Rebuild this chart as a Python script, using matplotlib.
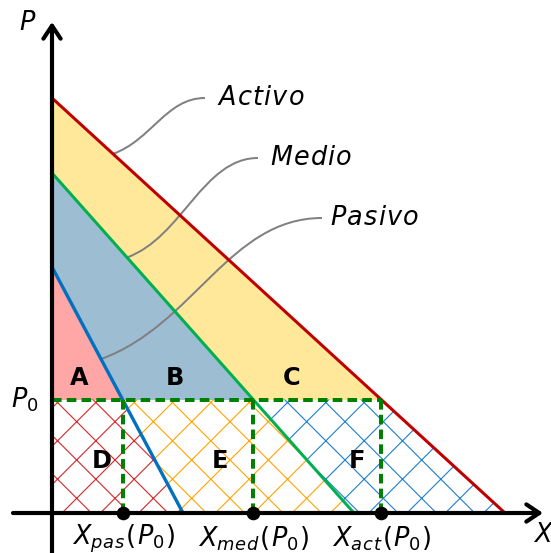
import numpy as np
import matplotlib
matplotlib.use('Agg')
import matplotlib.pyplot as plt
from matplotlib.path import Path
from matplotlib.patches import PathPatch

# demand lines: price intercept, quantity intercept
p_act, x_act = 415, 453
p_med, x_med = 340, 302
p_pas, x_pas = 246, 131
p0 = 113.5

names = ['Activo', 'Medio', 'Pasivo']
name_pos = [(165, 415), (218, 355), (278, 295)]
curve_start = [(153, 415), (206, 355), (270, 295)]
curve_end_x = [61, 75, 49]
q_subs = ['pas', 'med', 'act']
area_top = ['A', 'B', 'C']
area_bot = ['D', 'E', 'F']

c_act, c_med, c_pas = '#c00000', '#00b050', '#0070c0'
fill_cols = ['#ffa6a6', '#9dbdd3', '#ffe899']
hatch_cols = ['#d62728', '#ffa500', '#1f7fd0']

SP = r'\hspace{0.05}'


def spaced(tokens):
    return '$' + SP.join(tokens) + '$'


DPI = 115
plt.rcParams['hatch.linewidth'] = 0.7
fig = plt.figure(figsize=(551 / DPI, 553 / DPI), dpi=DPI)
ax = fig.add_axes([0, 0, 1, 1])
ax.set_xlim(-52, 499)
ax.set_ylim(-40, 513)
ax.axis('off')

xs = np.linspace(0, x_act, 3000)
ya = np.interp(xs, [0, x_act], [p_act, 0])
ym = np.interp(xs, [0, x_med], [p_med, 0])
yp = np.interp(xs, [0, x_pas], [p_pas, 0])

# areas above P0
tops = [np.maximum(yp, p0), np.maximum(ym, p0), np.maximum(ya, p0)]
lows = [np.full_like(xs, p0), tops[0], tops[1]]
for lo, hi, c in zip(lows, tops, fill_cols):
    ax.fill_between(xs, lo, hi, color=c, lw=0, zorder=1)

# hatched areas below P0
btops = [np.minimum(yp, p0), np.minimum(ym, p0), np.minimum(ya, p0)]
blows = [np.zeros_like(xs), btops[0], btops[1]]
for lo, hi, c in zip(blows, btops, hatch_cols):
    ax.fill_between(xs, lo, hi, facecolor='none', edgecolor=c, hatch='x', lw=0, zorder=1)

# demand lines
ax.plot([0, x_act], [p_act, 0], color=c_act, lw=1.9, zorder=4)
ax.plot([0, x_med], [p_med, 0], color=c_med, lw=1.9, zorder=4)
ax.plot([0, x_pas], [p_pas, 0], color=c_pas, lw=2.1, zorder=4)

# quantities at P0
qs = [np.interp(p0, [0, p], [x, 0]) for p, x in [(p_pas, x_pas), (p_med, x_med), (p_act, x_act)]]
ax.plot([0, qs[2]], [p0, p0], color='green', lw=2.5, dashes=(2.4, 1.3), zorder=5)
for q in qs:
    ax.plot([q, q], [0, p0], color='green', lw=2.5, dashes=(2.4, 1.3), zorder=5)
ax.plot(qs, [0, 0, 0], 'o', color='black', ms=7.5, zorder=7)

# axes with arrows
arrow = dict(arrowstyle='->,head_length=0.45,head_width=0.3', lw=2.6, color='black',
             shrinkA=0, shrinkB=0, mutation_scale=18)
ax.annotate('', xy=(491, 0), xytext=(-39, 0), arrowprops=arrow, zorder=6)
ax.annotate('', xy=(0, 491), xytext=(0, -40), arrowprops=arrow, zorder=6)

fs = 16
ax.text(-24, 490, r'$P$', fontsize=fs, ha='center', va='center')
ax.text(-27, p0, spaced(['P_0']), fontsize=fs, ha='center', va='center')
ax.text(481, -22, r'$X$', fontsize=fs, ha='left', va='center')
for q, sub in zip(qs, q_subs):
    lab = spaced(['X_{' + SP.join(sub) + '}', '(', 'P_0', ')'])
    ax.text(q + 1, -26, lab, fontsize=fs, ha='center', va='center')

# names with gray connectors
line_defs = [(p_act, x_act), (p_med, x_med), (p_pas, x_pas)]
for name, pos, st, ex, (p, x) in zip(names, name_pos, curve_start, curve_end_x, line_defs):
    ax.text(pos[0], pos[1], spaced(list(name)), fontsize=fs, ha='left', va='center')
    ey = np.interp(ex, [0, x], [p, 0])
    w = st[0] - ex
    k = 0.42
    verts = [st, (st[0] - k * w, st[1]), (ex + k * w, ey + k * w * 0.36), (ex, ey)]
    path = Path(verts, [Path.MOVETO, Path.CURVE4, Path.CURVE4, Path.CURVE4])
    ax.add_patch(PathPatch(path, facecolor='none', edgecolor='gray', lw=1.25, zorder=3))

# area letters
top_x = [27, 123, 240]
bot_x = [50, 168, 305]
for lab, x in zip(area_top, top_x):
    ax.text(x, 135, lab, fontsize=15, fontweight='bold', ha='center', va='center', zorder=8)
for lab, x in zip(area_bot, bot_x):
    ax.text(x, 52, lab, fontsize=15, fontweight='bold', ha='center', va='center', zorder=8)

fig.savefig('out.png', dpi=DPI)
